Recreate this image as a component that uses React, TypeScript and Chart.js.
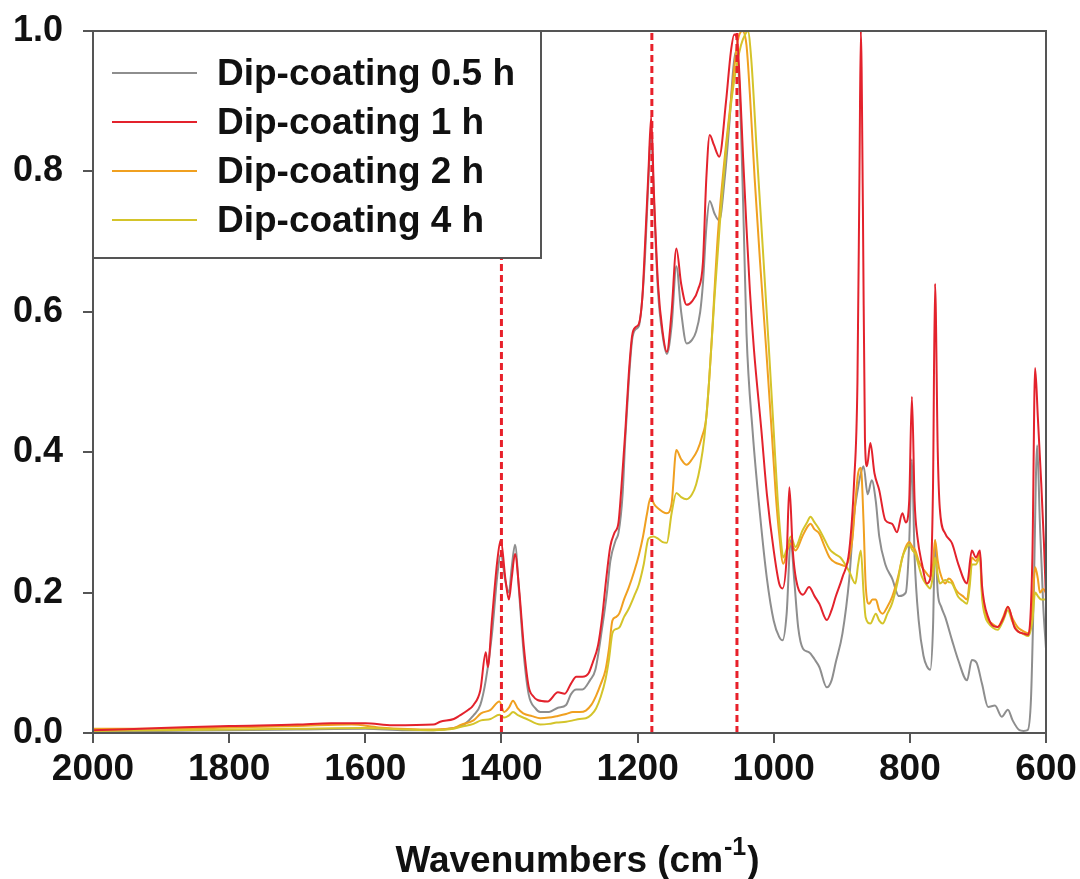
import React, { useEffect, useRef } from "react";
import { Chart, registerables } from "chart.js";

Chart.register(...registerables);

const FONT = '"Liberation Sans", Arial, Helvetica, sans-serif';

// Series names and line colours
const seriesLabels = ["Dip-coating 0.5 h", "Dip-coating 1 h", "Dip-coating 2 h", "Dip-coating 4 h"];
const seriesColors = ["#8e8e8e", "#e3222c", "#f0a020", "#d4c42a"];

// Dip-coating 0.5 h
const wn05 = [2000, 1900, 1800, 1700, 1600, 1540, 1500, 1470, 1455, 1441, 1431, 1423, 1414, 1406, 1401, 1394, 1389, 1385, 1380, 1374, 1367, 1360, 1350, 1343, 1330, 1317, 1305, 1298, 1290, 1281, 1270, 1262, 1252, 1245, 1240, 1232, 1228, 1222, 1218, 1213, 1208, 1203, 1198, 1193, 1189, 1184, 1180, 1176, 1170, 1163, 1157, 1150, 1143, 1136, 1128, 1120, 1114, 1108, 1104, 1099, 1094, 1087, 1080, 1072, 1065, 1060, 1056, 1052, 1048, 1044, 1040, 1031, 1020, 1010, 1000, 992, 987, 981, 975, 970, 964, 957, 948, 940, 933, 922, 915, 909, 899, 889, 882, 876, 872, 868, 862, 856, 850, 845, 836, 826, 816, 806, 801, 797, 793, 787, 780, 775, 770, 766, 763, 759, 754, 748, 738, 729, 716, 709, 702, 694, 685, 675, 665, 656, 649, 639, 633, 627, 622, 618, 613, 609, 604, 600];
const abs05 = [0.002, 0.003, 0.004, 0.005, 0.006, 0.004, 0.004, 0.007, 0.012, 0.025, 0.04, 0.075, 0.14, 0.225, 0.255, 0.215, 0.2, 0.235, 0.268, 0.2, 0.11, 0.055, 0.035, 0.03, 0.03, 0.036, 0.04, 0.055, 0.062, 0.062, 0.075, 0.09, 0.15, 0.2, 0.245, 0.275, 0.285, 0.34, 0.42, 0.5, 0.56, 0.575, 0.58, 0.62, 0.68, 0.79, 0.86, 0.76, 0.63, 0.565, 0.54, 0.58, 0.665, 0.6, 0.555, 0.56, 0.572, 0.6, 0.64, 0.72, 0.758, 0.74, 0.73, 0.79, 0.87, 0.94, 0.97, 0.95, 0.86, 0.72, 0.57, 0.43, 0.31, 0.22, 0.16, 0.137, 0.132, 0.17, 0.275, 0.22, 0.15, 0.12, 0.115, 0.105, 0.094, 0.065, 0.075, 0.1, 0.142, 0.22, 0.31, 0.35, 0.37, 0.38, 0.34, 0.36, 0.33, 0.28, 0.24, 0.22, 0.195, 0.2, 0.27, 0.39, 0.25, 0.16, 0.11, 0.095, 0.09, 0.15, 0.275, 0.2, 0.18, 0.165, 0.132, 0.104, 0.075, 0.104, 0.1, 0.07, 0.037, 0.039, 0.023, 0.033, 0.018, 0.004, 0.003, 0.004, 0.05, 0.2, 0.41, 0.3, 0.18, 0.12];

// Dip-coating 1 h
const wn1 = [2000, 1900, 1800, 1700, 1650, 1600, 1560, 1500, 1490, 1470, 1461, 1450, 1441, 1431, 1423, 1420, 1414, 1406, 1401, 1394, 1389, 1385, 1380, 1374, 1367, 1360, 1353, 1347, 1332, 1317, 1307, 1298, 1290, 1281, 1272, 1266, 1258, 1252, 1246, 1240, 1234, 1228, 1223, 1218, 1213, 1208, 1203, 1198, 1193, 1189, 1184, 1180, 1176, 1170, 1163, 1157, 1150, 1143, 1136, 1128, 1120, 1111, 1104, 1099, 1094, 1088, 1080, 1070, 1063, 1058, 1054, 1050, 1045, 1040, 1035, 1029, 1018, 1010, 1000, 992, 987, 981, 977, 972, 967, 957, 948, 940, 933, 922, 915, 909, 899, 889, 882, 877, 874, 872, 869, 866, 863, 858, 852, 845, 836, 826, 819, 811, 806, 801, 797, 793, 789, 782, 775, 770, 766, 763, 759, 756, 748, 738, 729, 716, 709, 703, 697, 694, 685, 671, 662, 656, 646, 631, 626, 620, 616, 612, 607, 603, 600];
const abs1 = [0.004, 0.007, 0.01, 0.012, 0.014, 0.014, 0.011, 0.012, 0.016, 0.02, 0.025, 0.032, 0.04, 0.061, 0.115, 0.094, 0.161, 0.246, 0.275, 0.218, 0.19, 0.22, 0.255, 0.205, 0.122, 0.066, 0.052, 0.047, 0.045, 0.058, 0.056, 0.07, 0.08, 0.08, 0.085, 0.1, 0.125, 0.165, 0.22, 0.266, 0.285, 0.3, 0.36, 0.43, 0.51, 0.566, 0.578, 0.583, 0.62, 0.696, 0.8, 0.878, 0.77, 0.64, 0.57, 0.543, 0.6, 0.69, 0.64, 0.61, 0.615, 0.632, 0.67, 0.79, 0.852, 0.838, 0.821, 0.9, 0.97, 0.995, 0.99, 0.93, 0.82, 0.72, 0.63, 0.546, 0.43, 0.34, 0.26, 0.213, 0.206, 0.25, 0.35, 0.26, 0.218, 0.197, 0.208, 0.195, 0.184, 0.161, 0.175, 0.194, 0.222, 0.26, 0.356, 0.5, 0.8, 1.0, 0.75, 0.42, 0.38, 0.413, 0.37, 0.346, 0.303, 0.298, 0.286, 0.313, 0.3, 0.33, 0.479, 0.33, 0.28, 0.24, 0.213, 0.22, 0.35, 0.64, 0.4, 0.32, 0.284, 0.27, 0.241, 0.213, 0.26, 0.25, 0.26, 0.21, 0.165, 0.151, 0.165, 0.18, 0.15, 0.141, 0.14, 0.25, 0.52, 0.45, 0.356, 0.27, 0.19];

// Dip-coating 2 h
const wn2 = [2000, 1900, 1800, 1700, 1620, 1580, 1500, 1470, 1459, 1441, 1430, 1416, 1403, 1396, 1389, 1383, 1376, 1368, 1355, 1343, 1330, 1319, 1305, 1295, 1285, 1276, 1268, 1261, 1254, 1247, 1242, 1237, 1232, 1227, 1220, 1213, 1205, 1198, 1192, 1186, 1181, 1175, 1170, 1163, 1157, 1150, 1143, 1136, 1128, 1120, 1112, 1106, 1099, 1092, 1082, 1073, 1063, 1053, 1046, 1040, 1035, 1028, 1020, 1011, 1003, 997, 992, 986, 980, 975, 968, 958, 951, 946, 940, 933, 925, 918, 910, 902, 895, 889, 884, 880, 876, 872, 868, 865, 860, 855, 850, 845, 840, 833, 826, 818, 811, 806, 801, 796, 792, 787, 782, 776, 770, 766, 763, 759, 756, 748, 743, 738, 733, 729, 722, 716, 712, 709, 703, 697, 694, 689, 685, 678, 671, 663, 656, 650, 641, 635, 626, 620, 616, 612, 609, 604, 600];
const abs2 = [0.006, 0.006, 0.008, 0.01, 0.012, 0.008, 0.005, 0.007, 0.012, 0.018, 0.028, 0.033, 0.045, 0.03, 0.036, 0.046, 0.035, 0.028, 0.024, 0.021, 0.022, 0.024, 0.027, 0.03, 0.03, 0.032, 0.04, 0.053, 0.07, 0.09, 0.12, 0.16, 0.165, 0.17, 0.19, 0.207, 0.23, 0.254, 0.28, 0.313, 0.335, 0.325, 0.32, 0.315, 0.313, 0.327, 0.403, 0.39, 0.382, 0.39, 0.403, 0.42, 0.45, 0.546, 0.71, 0.81, 0.9, 0.985, 1.0, 0.98, 0.91, 0.79, 0.67, 0.546, 0.43, 0.34, 0.284, 0.241, 0.26, 0.27, 0.26, 0.28, 0.293, 0.298, 0.29, 0.284, 0.265, 0.25, 0.243, 0.24, 0.238, 0.25, 0.28, 0.33, 0.37, 0.378, 0.3, 0.213, 0.184, 0.19, 0.19, 0.175, 0.17, 0.18, 0.194, 0.22, 0.25, 0.265, 0.272, 0.265, 0.26, 0.245, 0.236, 0.228, 0.222, 0.24, 0.275, 0.245, 0.23, 0.213, 0.22, 0.216, 0.205, 0.2, 0.195, 0.19, 0.22, 0.25, 0.245, 0.255, 0.2, 0.17, 0.161, 0.155, 0.151, 0.165, 0.18, 0.165, 0.15, 0.146, 0.142, 0.18, 0.236, 0.22, 0.2, 0.205, 0.2];

// Dip-coating 4 h
const wn4 = [2000, 1900, 1800, 1700, 1600, 1540, 1500, 1470, 1459, 1441, 1430, 1416, 1403, 1396, 1389, 1383, 1375, 1363, 1343, 1330, 1319, 1305, 1295, 1285, 1276, 1268, 1261, 1254, 1247, 1242, 1237, 1232, 1227, 1220, 1213, 1205, 1198, 1191, 1184, 1177, 1170, 1163, 1157, 1150, 1143, 1136, 1128, 1120, 1114, 1108, 1102, 1095, 1087, 1078, 1068, 1058, 1048, 1042, 1038, 1033, 1025, 1016, 1007, 1000, 994, 989, 986, 980, 975, 968, 958, 951, 946, 940, 933, 925, 918, 910, 902, 895, 889, 880, 876, 872, 868, 865, 858, 850, 845, 840, 833, 826, 818, 811, 806, 801, 796, 792, 782, 776, 770, 766, 763, 759, 756, 748, 743, 738, 729, 722, 716, 712, 709, 703, 697, 694, 689, 685, 678, 671, 663, 656, 650, 641, 635, 626, 620, 616, 612, 607, 600];
const abs4 = [0.003, 0.004, 0.005, 0.006, 0.007, 0.005, 0.004, 0.006, 0.009, 0.013, 0.018, 0.02, 0.026, 0.022, 0.025, 0.03, 0.025, 0.02, 0.012, 0.013, 0.015, 0.016, 0.018, 0.02, 0.021, 0.026, 0.035, 0.052, 0.077, 0.105, 0.142, 0.148, 0.15, 0.165, 0.177, 0.195, 0.212, 0.24, 0.277, 0.28, 0.277, 0.272, 0.271, 0.313, 0.342, 0.336, 0.333, 0.34, 0.354, 0.38, 0.42, 0.5, 0.62, 0.74, 0.85, 0.93, 0.98, 0.995, 1.0, 0.96, 0.83, 0.69, 0.546, 0.43, 0.33, 0.27, 0.25, 0.265, 0.28, 0.265, 0.288, 0.3, 0.308, 0.3, 0.29, 0.275, 0.262, 0.255, 0.25, 0.24, 0.23, 0.213, 0.24, 0.26, 0.2, 0.165, 0.156, 0.17, 0.16, 0.156, 0.17, 0.185, 0.215, 0.25, 0.262, 0.268, 0.26, 0.255, 0.222, 0.212, 0.206, 0.225, 0.25, 0.225, 0.213, 0.218, 0.215, 0.213, 0.194, 0.188, 0.184, 0.21, 0.24, 0.24, 0.25, 0.194, 0.165, 0.157, 0.15, 0.147, 0.16, 0.175, 0.16, 0.145, 0.142, 0.138, 0.16, 0.2, 0.195, 0.19, 0.19];

// Band positions marked with dashed lines (cm-1)
const bandPositions = [1400, 1179, 1054];

// Axis ranges and tick steps
const xMin = 600;
const xMax = 2000;
const xStep = 200;
const yMin = 0;
const yMax = 1;
const yStep = 0.2;

const spectraWn = [wn05, wn1, wn2, wn4];
const spectraAbs = [abs05, abs1, abs2, abs4];
// Drawing weight per series (higher = drawn earlier, underneath)
const drawOrder = [5, 2, 4, 3];

const AXIS_COLOR = "#555555";
const TEXT_COLOR = "#111111";
const BAND_COLOR = "#e8202a";

const framePlugin = {
  id: "frame",
  afterDraw(chart: any) {
    const { ctx, chartArea } = chart;
    const { left, top, right, bottom } = chartArea;
    ctx.save();
    ctx.strokeStyle = AXIS_COLOR;
    ctx.lineWidth = 2;
    ctx.strokeRect(left, top, right - left, bottom - top);
    ctx.restore();
  },
};

const legendPlugin = {
  id: "boxLegend",
  afterDraw(chart: any) {
    const { ctx, chartArea } = chart;
    const x0 = chartArea.left;
    const y0 = chartArea.top;
    const w = 448;
    const h = 227;
    ctx.save();
    ctx.fillStyle = "#ffffff";
    ctx.fillRect(x0, y0, w, h);
    ctx.strokeStyle = AXIS_COLOR;
    ctx.lineWidth = 2;
    ctx.strokeRect(x0, y0, w, h);
    ctx.font = `bold 37px ${FONT}`;
    ctx.textBaseline = "middle";
    ctx.textAlign = "left";
    seriesLabels.forEach((label, i) => {
      const y = y0 + 42 + i * 49;
      ctx.strokeStyle = seriesColors[i];
      ctx.lineWidth = 2;
      ctx.beginPath();
      ctx.moveTo(x0 + 19, y);
      ctx.lineTo(x0 + 104, y);
      ctx.stroke();
      ctx.fillStyle = TEXT_COLOR;
      ctx.fillText(label, x0 + 124, y + 2);
    });
    ctx.restore();
  },
};

const axisTitlePlugin = {
  id: "axisTitle",
  afterDraw(chart: any) {
    const { ctx, chartArea } = chart;
    const main = "Wavenumbers (cm";
    const sup = "-1";
    const tail = ")";
    ctx.save();
    ctx.fillStyle = TEXT_COLOR;
    ctx.textBaseline = "alphabetic";
    ctx.textAlign = "left";
    const bigFont = `bold 37px ${FONT}`;
    const smallFont = `bold 25px ${FONT}`;
    ctx.font = bigFont;
    const wMain = ctx.measureText(main).width;
    const wTail = ctx.measureText(tail).width;
    ctx.font = smallFont;
    const wSup = ctx.measureText(sup).width;
    const total = wMain + wSup + wTail + 2;
    const cx = (chartArea.left + chartArea.right) / 2 + 8;
    const baseline = 872;
    let x = cx - total / 2;
    ctx.font = bigFont;
    ctx.fillText(main, x, baseline);
    x += wMain + 1;
    ctx.font = smallFont;
    ctx.fillText(sup, x, baseline - 17);
    x += wSup + 1;
    ctx.font = bigFont;
    ctx.fillText(tail, x, baseline);
    ctx.restore();
  },
};

export default function App() {
  const canvasRef = useRef<HTMLCanvasElement | null>(null);

  useEffect(() => {
    const canvas = canvasRef.current;
    if (!canvas) return;

    const spectra = seriesLabels.map((label, i) => ({
      label,
      data: spectraWn[i].map((x, j) => ({ x, y: spectraAbs[i][j] })),
      borderColor: seriesColors[i],
      borderWidth: 2,
      pointRadius: 0,
      fill: false,
      cubicInterpolationMode: "monotone" as const,
      order: drawOrder[i],
    }));

    const bands = bandPositions.map((b) => ({
      label: `band ${b}`,
      data: [
        { x: b, y: yMin },
        { x: b, y: yMax },
      ],
      borderColor: BAND_COLOR,
      borderWidth: 3,
      borderDash: [7, 4],
      pointRadius: 0,
      fill: false,
      order: 0,
    }));

    const chart = new Chart(canvas, {
      type: "line",
      data: { datasets: [...spectra, ...bands] as any },
      options: {
        animation: false,
        responsive: false,
        maintainAspectRatio: false,
        devicePixelRatio: 1,
        layout: { padding: { left: 0, right: 34, top: 31, bottom: 0 } },
        plugins: {
          legend: { display: false },
          tooltip: { enabled: false },
          title: { display: false },
        },
        scales: {
          x: {
            type: "linear",
            min: xMin,
            max: xMax,
            reverse: true,
            border: { display: true, color: AXIS_COLOR, width: 2 },
            grid: {
              drawOnChartArea: false,
              drawTicks: true,
              tickLength: 10,
              color: AXIS_COLOR,
              lineWidth: 2,
            },
            ticks: {
              stepSize: xStep,
              autoSkip: false,
              maxRotation: 0,
              padding: 5,
              color: TEXT_COLOR,
              font: { family: FONT, size: 37, weight: "bold" },
              callback: (v: any) => String(v),
            },
            afterFit(scale: any) {
              scale.height = 146;
              scale.paddingLeft = 0;
              scale.paddingRight = 0;
            },
          },
          y: {
            type: "linear",
            min: yMin,
            max: yMax,
            border: { display: true, color: AXIS_COLOR, width: 2 },
            grid: {
              drawOnChartArea: false,
              drawTicks: true,
              tickLength: 10,
              color: AXIS_COLOR,
              lineWidth: 2,
            },
            ticks: {
              stepSize: yStep,
              padding: 20,
              color: TEXT_COLOR,
              font: { family: FONT, size: 36, weight: "bold" },
              callback: (v: any) => Number(v).toFixed(1),
            },
            afterFit(scale: any) {
              scale.width = 93;
              scale.paddingTop = 0;
              scale.paddingBottom = 0;
            },
          },
        },
      },
      plugins: [framePlugin, legendPlugin, axisTitlePlugin],
    });

    return () => chart.destroy();
  }, []);

  return (
    <div style={{ position: "absolute", left: 0, top: 0, width: 1080, height: 879, background: "#ffffff" }}>
      <canvas ref={canvasRef} width={1080} height={879} style={{ display: "block" }} />
    </div>
  );
}
